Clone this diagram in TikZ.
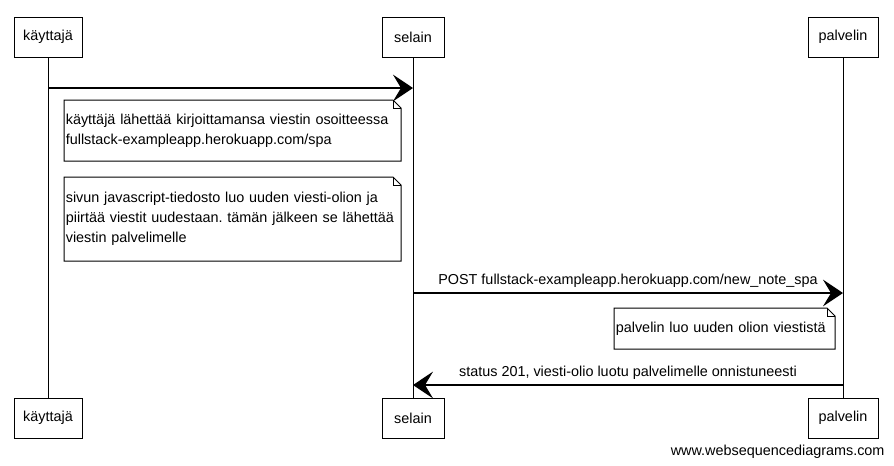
\documentclass[tikz,border=0pt]{standalone}
\usepackage{fontspec}
\setmainfont{Liberation Sans}
\usetikzlibrary{arrows.meta}
\frenchspacing

\newcommand{\notefold}[1]{%
	\draw (#1.north west) -- ([xshift=-6pt]#1.north east) -- ([yshift=-6pt]#1.north east) -- (#1.south east) -- (#1.south west) -- cycle;
	\draw ([xshift=-6pt]#1.north east) |- ([yshift=-6pt]#1.north east);
}

\begin{document}
\begin{tikzpicture}[x=0.75pt, y=-0.75pt, line width=0.75pt, font=\fontsize{10.8pt}{15pt}\selectfont,
		actor/.style={draw, minimum height=30pt, inner sep=2pt},
		notebox/.style={anchor=north west, inner xsep=1pt, align=left,
			execute at begin node={\hyphenpenalty=10000\exhyphenpenalty=10000}},
		msg/.style={-{Stealth[length=15pt, width=20pt, inset=6pt]}, line width=1.1pt}]
		\useasboundingbox (0,0) rectangle (894,465);

		\node[actor, minimum width=51pt] (u1) at (48,37) {käyttajä};
		\node[actor, minimum width=46.5pt] (s1) at (413,37) {selain};
		\node[actor, minimum width=52.5pt] (p1) at (843,37) {palvelin};

		\node[actor, minimum width=51pt] (u2) at (48,418) {käyttajä};
		\node[actor, minimum width=46.5pt] (s2) at (413,418) {selain};
		\node[actor, minimum width=52.5pt] (p2) at (843,418) {palvelin};

		\draw (u1) -- (u2);
		\draw (s1) -- (s2);
		\draw (p1) -- (p2);

		\coordinate (ua) at (48,88);
		\coordinate (sa) at (413,88);
		\coordinate (sb) at (413,293);
		\coordinate (pb) at (843,293);
		\coordinate (pc) at (843,385);
		\coordinate (sc) at (413,385);

		\draw[msg] (ua) -- (sa);

		\node[notebox, text width=250pt, minimum height=45pt] (n1) at (64,100) {käyttäjä lähettää kirjoittamansa viestin osoitteessa\\fullstack-exampleapp.herokuapp.com/spa};
		\notefold{n1}

		\node[notebox, text width=250pt, minimum height=62.25pt] (n2) at (64,177) {sivun javascript-tiedosto luo uuden viesti-olion ja\\piirtää viestit uudestaan. tämän jälkeen se lähettää\\viestin palvelimelle};
		\notefold{n2}

		\draw[msg] (sb) -- node[above] {POST fullstack-exampleapp.herokuapp.com/new\_note\_spa} (pb);

		\node[notebox, text width=163pt, minimum height=30pt] (n3) at (614,308) {palvelin luo uuden olion viestistä};
		\notefold{n3}

		\draw[msg] (pc) -- node[above] {status 201, viesti-olio luotu palvelimelle onnistuneesti} (sc);

		\node[anchor=east, inner sep=0pt] (w) at (885,452) {www.websequencediagrams.com};
\end{tikzpicture}
\end{document}
